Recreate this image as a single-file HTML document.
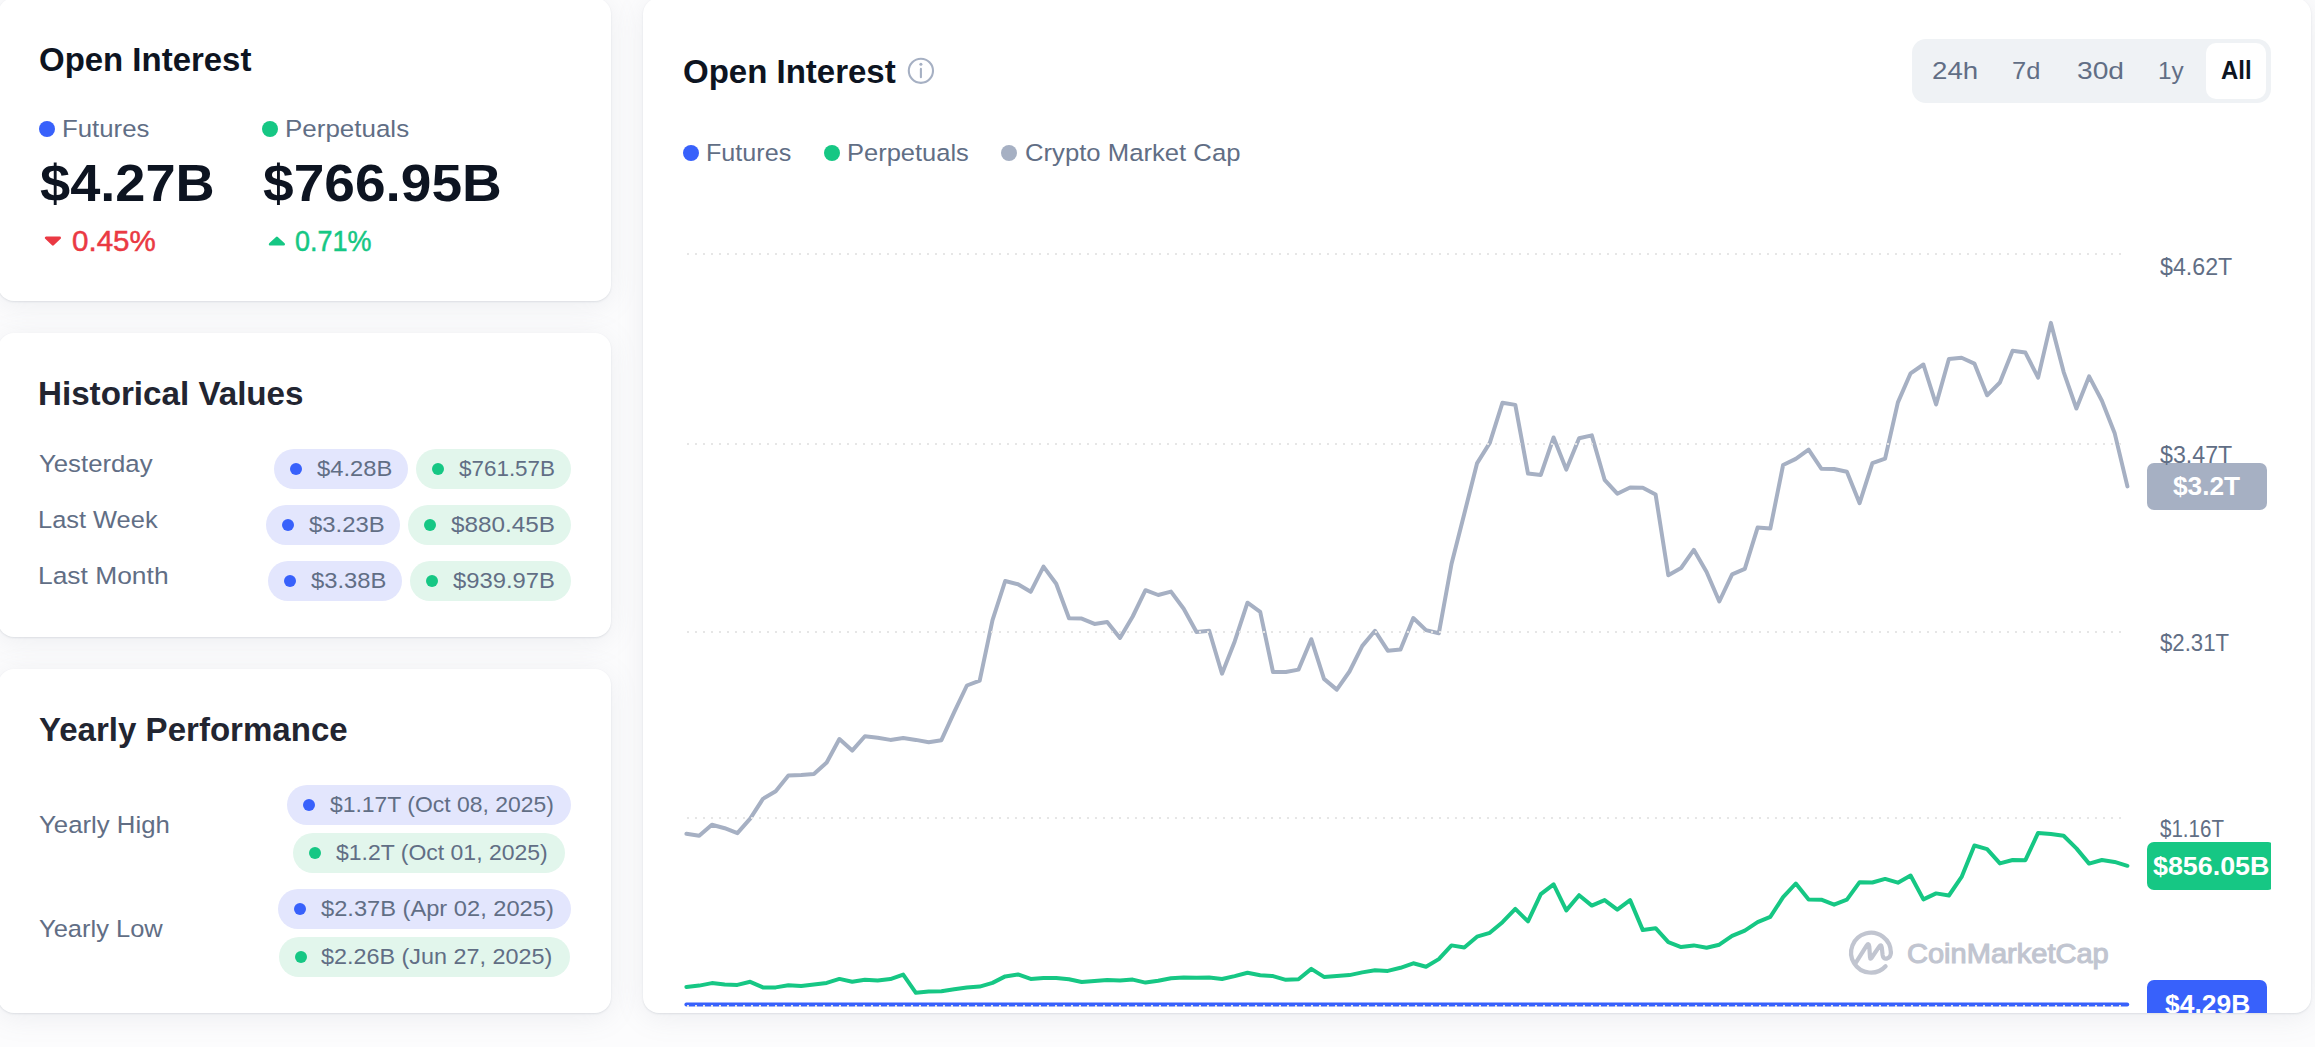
<!DOCTYPE html>
<html><head><meta charset="utf-8"><title>Open Interest</title>
<style>
html,body{margin:0;padding:0}
body{width:2315px;height:1047px;position:relative;overflow:hidden;background:#fcfcfd;font-family:"Liberation Sans",sans-serif}
.card{position:absolute;background:#fff;border-radius:16px;box-shadow:0 1px 2px rgba(128,138,157,.2),0 4px 28px rgba(128,138,157,.13)}
.t{position:absolute;line-height:1;white-space:pre;transform-origin:0 0}
.pill{position:absolute;height:40px;border-radius:20px}
.dot{position:absolute;border-radius:50%;display:block}
.tag{position:absolute;border-radius:7px}
.chart{position:absolute;left:0;top:0}
.clip{position:absolute;left:0;top:0;width:2271px;height:1013px;overflow:hidden}
.seg{position:absolute;left:1912px;top:39px;width:359px;height:64px;border-radius:14px;background:#eff2f5}
.segon{position:absolute;left:2206px;top:43px;width:60px;height:56px;border-radius:10px;background:#fff}
.tri{position:absolute;width:0;height:0;border-left:9px solid transparent;border-right:9px solid transparent}
</style></head><body>
<div class="card" style="left:-2px;top:-2px;width:613px;height:303px"></div>
<div class="card" style="left:-2px;top:333px;width:613px;height:304px"></div>
<div class="card" style="left:-2px;top:669px;width:613px;height:344px"></div>
<div class="card" style="left:643px;top:-2px;width:1668px;height:1015px"></div>
<i class="dot" style="left:39px;top:121px;width:16px;height:16px;background:#3861fb"></i>
<i class="dot" style="left:262px;top:121px;width:16px;height:16px;background:#16c784"></i>
<svg style="position:absolute;left:42px;top:233px" width="22" height="16" viewBox="0 0 22 16"><path d="M4.1 4.9 L17.7 4.9 L10.9 11.3 Z" fill="#ea3943" stroke="#ea3943" stroke-width="2.6" stroke-linejoin="round"/></svg>
<svg style="position:absolute;left:266px;top:233px" width="22" height="16" viewBox="0 0 22 16"><path d="M4.1 11.3 L17.7 11.3 L10.9 4.9 Z" fill="#16c784" stroke="#16c784" stroke-width="2.6" stroke-linejoin="round"/></svg>
<i class="dot" style="left:683px;top:145px;width:16px;height:16px;background:#3861fb"></i>
<i class="dot" style="left:824px;top:145px;width:16px;height:16px;background:#16c784"></i>
<i class="dot" style="left:1001px;top:145px;width:16px;height:16px;background:#a6b0c3"></i>
<svg style="position:absolute;left:906px;top:56px" width="30" height="30" viewBox="0 0 30 30"><circle cx="14.9" cy="14.8" r="12.1" fill="none" stroke="#a6b0c3" stroke-width="2.1"/><path d="M14.9 12.9 L14.9 21.3" stroke="#a6b0c3" stroke-width="2.1" stroke-linecap="round" fill="none"/><circle cx="14.9" cy="8.3" r="1.55" fill="#a6b0c3"/></svg>
<div class="seg"></div><div class="segon"></div>
<div class="clip">
<svg class="chart" width="2315" height="1047" viewBox="0 0 2315 1047">
<path d="M686.4 833.7 L699.2 835.8 L711.9 824.8 L724.7 828.2 L737.4 833.1 L750.2 818.7 L762.9 798.9 L775.7 791.2 L788.4 775.6 L801.2 775.0 L813.9 774.1 L826.7 762.5 L839.4 739.0 L852.2 750.6 L864.9 736.2 L877.7 737.7 L890.4 739.9 L903.2 738.0 L915.9 739.9 L928.7 742.3 L941.4 740.2 L954.2 712.1 L966.9 685.5 L979.7 680.6 L992.5 620.1 L1005.2 581.0 L1018.0 584.3 L1030.7 591.8 L1043.5 566.6 L1056.2 583.8 L1069.0 618.2 L1081.7 618.6 L1094.5 623.9 L1107.2 622.0 L1120.0 638.0 L1132.7 616.5 L1145.5 590.2 L1158.2 595.0 L1171.0 591.6 L1183.7 608.8 L1196.5 632.0 L1209.2 630.8 L1222.0 673.7 L1234.7 641.4 L1247.5 602.7 L1260.2 611.9 L1273.0 672.0 L1285.8 672.0 L1298.5 669.6 L1311.3 639.2 L1324.0 678.9 L1336.8 689.6 L1349.5 671.5 L1362.3 645.9 L1375.0 630.8 L1387.8 650.7 L1400.5 649.6 L1413.3 618.0 L1426.0 630.1 L1438.8 633.3 L1451.5 564.0 L1464.3 513.7 L1477.0 463.4 L1489.8 442.9 L1502.5 402.7 L1515.3 404.9 L1528.0 473.6 L1540.8 474.9 L1553.6 437.5 L1566.3 469.6 L1579.1 438.3 L1591.8 435.4 L1604.6 479.8 L1617.3 493.7 L1630.1 487.5 L1642.8 487.8 L1655.6 494.5 L1668.3 575.2 L1681.1 568.0 L1693.8 549.8 L1706.6 572.0 L1719.3 601.5 L1732.1 574.4 L1744.8 568.9 L1757.6 527.6 L1770.3 528.6 L1783.1 465.0 L1795.8 458.9 L1808.6 449.7 L1821.3 468.7 L1834.1 469.0 L1846.9 471.7 L1859.6 503.2 L1872.4 463.2 L1885.1 458.6 L1897.9 402.4 L1910.6 373.3 L1923.4 364.5 L1936.1 404.5 L1948.9 359.0 L1961.6 357.8 L1974.4 363.6 L1987.1 395.3 L1999.9 382.5 L2012.6 350.7 L2025.4 352.6 L2038.1 377.6 L2050.9 322.9 L2063.6 371.8 L2076.4 408.5 L2089.1 376.4 L2101.9 400.8 L2114.6 432.9 L2127.4 486.4" fill="none" stroke="#a6b0c3" stroke-width="4" stroke-linejoin="round" stroke-linecap="round"/>
<path d="M686.4 987.0 L699.2 985.6 L711.9 983.1 L724.7 984.5 L737.4 984.9 L750.2 981.8 L762.9 987.4 L775.7 987.4 L788.4 985.2 L801.2 986.0 L813.9 984.5 L826.7 982.9 L839.4 978.9 L852.2 981.8 L864.9 979.8 L877.7 980.6 L890.4 979.1 L903.2 974.6 L915.9 992.8 L928.7 991.6 L941.4 991.2 L954.2 989.3 L966.9 987.6 L979.7 986.6 L992.5 982.9 L1005.2 976.4 L1018.0 974.4 L1030.7 978.9 L1043.5 978.1 L1056.2 977.9 L1069.0 979.3 L1081.7 982.0 L1094.5 981.0 L1107.2 980.0 L1120.0 980.4 L1132.7 979.6 L1145.5 982.6 L1158.2 980.8 L1171.0 978.2 L1183.7 977.4 L1196.5 977.8 L1209.2 977.6 L1222.0 979.0 L1234.7 976.1 L1247.5 972.8 L1260.2 975.3 L1273.0 976.1 L1285.8 979.8 L1298.5 979.2 L1311.3 968.9 L1324.0 976.9 L1336.8 976.1 L1349.5 975.1 L1362.3 972.4 L1375.0 970.3 L1387.8 970.9 L1400.5 967.8 L1413.3 963.3 L1426.0 966.8 L1438.8 959.1 L1451.5 945.4 L1464.3 947.5 L1477.0 936.7 L1489.8 932.8 L1502.5 922.2 L1515.3 908.9 L1528.0 921.4 L1540.8 894.2 L1553.6 884.3 L1566.3 910.4 L1579.1 895.2 L1591.8 905.6 L1604.6 900.1 L1617.3 909.7 L1630.1 900.1 L1642.8 930.1 L1655.6 928.2 L1668.3 942.2 L1681.1 947.1 L1693.8 945.4 L1706.6 947.8 L1719.3 944.7 L1732.1 935.9 L1744.8 930.6 L1757.6 922.2 L1770.3 916.8 L1783.1 897.2 L1795.8 883.5 L1808.6 899.4 L1821.3 899.7 L1834.1 904.7 L1846.9 899.7 L1859.6 882.2 L1872.4 882.5 L1885.1 878.9 L1897.9 882.7 L1910.6 875.5 L1923.4 899.4 L1936.1 893.4 L1948.9 895.5 L1961.6 876.9 L1974.4 845.5 L1987.1 849.1 L1999.9 863.4 L2012.6 860.0 L2025.4 860.2 L2038.1 832.9 L2050.9 833.9 L2063.6 835.8 L2076.4 848.4 L2089.1 863.6 L2101.9 860.0 L2114.6 861.9 L2127.4 865.8" fill="none" stroke="#16c784" stroke-width="4" stroke-linejoin="round" stroke-linecap="round"/>
<path d="M686.4 1004.6 L2127.2 1004.6" fill="none" stroke="#3861fb" stroke-width="4" stroke-linecap="round"/>
<g stroke="#e6e6e6" stroke-width="2" stroke-dasharray="2 6"><line x1="687" x2="2123" y1="254" y2="254"/><line x1="687" x2="2123" y1="444" y2="444"/><line x1="687" x2="2123" y1="632" y2="632"/><line x1="687" x2="2123" y1="818" y2="818"/><line x1="687" x2="2123" y1="1006" y2="1006"/></g>
<g fill="none" stroke="#c1c5d0" stroke-width="4.2" stroke-linecap="round" stroke-linejoin="round">
<path d="M1890.9 952.6 A19.9 19.9 0 1 0 1885.6 966.2"/>
<path d="M1855.9 962.7 L1866.6 945.6 Q1868.8 942.4 1869.3 946.5 L1870 957 Q1870.2 960 1871.8 957.5 L1879 946.8 Q1881.3 943.5 1881.8 947.5 L1882.6 955 Q1883.2 959.2 1886.6 958.6 Q1890.9 957.5 1890.9 952.6"/>
</g>
</svg>
<div class="tag" style="left:2147px;top:463px;width:120px;height:47px;background:#a6b0c3"></div><span class="t" style="left:2172.9px;top:473.9px;font-size:25px;color:#fff;transform:scaleX(1.0500);font-weight:700;">$3.2T</span><div class="tag" style="left:2147px;top:842px;width:128px;height:48px;background:#16c784"></div><span class="t" style="left:2153.0px;top:854.0px;font-size:25px;color:#fff;transform:scaleX(1.0738);font-weight:700;">$856.05B</span><div class="tag" style="left:2147px;top:980px;width:120px;height:47px;background:#3861fb"></div><span class="t" style="left:2165.1px;top:992.1px;font-size:25px;color:#fff;transform:scaleX(1.0570);font-weight:700;">$4.29B</span>
</div>
<div class="pill" style="left:273.8px;top:449px;width:134.4px;background:#e3e6fd"></div><i class="dot" style="left:289.8px;top:462.8px;width:12px;height:12px;background:#3861fb"></i><span class="t" style="left:316.7px;top:458.1px;font-size:22.5px;color:#616e85;transform:scaleX(1.0557);">$4.28B</span><div class="pill" style="left:416.2px;top:449px;width:154.8px;background:#e2f6ec"></div><i class="dot" style="left:432.2px;top:462.8px;width:12px;height:12px;background:#16c784"></i><span class="t" style="left:458.6px;top:458.1px;font-size:22.5px;color:#616e85;transform:scaleX(0.9968);">$761.57B</span><div class="pill" style="left:265.8px;top:505px;width:134.2px;background:#e3e6fd"></div><i class="dot" style="left:281.8px;top:518.8px;width:12px;height:12px;background:#3861fb"></i><span class="t" style="left:309.1px;top:514.1px;font-size:22.5px;color:#616e85;transform:scaleX(1.0614);">$3.23B</span><div class="pill" style="left:407.9px;top:505px;width:163.1px;background:#e2f6ec"></div><i class="dot" style="left:423.9px;top:518.8px;width:12px;height:12px;background:#16c784"></i><span class="t" style="left:450.8px;top:514.1px;font-size:22.5px;color:#616e85;transform:scaleX(1.0789);">$880.45B</span><div class="pill" style="left:267.9px;top:561px;width:134.2px;background:#e3e6fd"></div><i class="dot" style="left:283.9px;top:574.8px;width:12px;height:12px;background:#3861fb"></i><span class="t" style="left:311.1px;top:570.1px;font-size:22.5px;color:#616e85;transform:scaleX(1.0571);">$3.38B</span><div class="pill" style="left:410.0px;top:561px;width:161.0px;background:#e2f6ec"></div><i class="dot" style="left:426.0px;top:574.8px;width:12px;height:12px;background:#16c784"></i><span class="t" style="left:452.8px;top:570.1px;font-size:22.5px;color:#616e85;transform:scaleX(1.0579);">$939.97B</span><div class="pill" style="left:286.9px;top:785px;width:284.2px;background:#e3e6fd"></div><i class="dot" style="left:302.9px;top:798.8px;width:12px;height:12px;background:#3861fb"></i><span class="t" style="left:329.9px;top:794.1px;font-size:22.5px;color:#616e85;transform:scaleX(1.0188);">$1.17T (Oct 08, 2025)</span><div class="pill" style="left:292.8px;top:833px;width:272.3px;background:#e2f6ec"></div><i class="dot" style="left:308.8px;top:846.8px;width:12px;height:12px;background:#16c784"></i><span class="t" style="left:335.7px;top:842.1px;font-size:22.5px;color:#616e85;transform:scaleX(1.0218);">$1.2T (Oct 01, 2025)</span><div class="pill" style="left:277.9px;top:889px;width:293.2px;background:#e3e6fd"></div><i class="dot" style="left:293.9px;top:902.8px;width:12px;height:12px;background:#3861fb"></i><span class="t" style="left:320.7px;top:898.1px;font-size:22.5px;color:#616e85;transform:scaleX(1.0514);">$2.37B (Apr 02, 2025)</span><div class="pill" style="left:279.0px;top:937px;width:291.0px;background:#e2f6ec"></div><i class="dot" style="left:295.0px;top:950.8px;width:12px;height:12px;background:#16c784"></i><span class="t" style="left:321.4px;top:946.1px;font-size:22.5px;color:#616e85;transform:scaleX(1.0389);">$2.26B (Jun 27, 2025)</span>
<span class="t" style="left:38.7px;top:42.7px;font-size:33.5px;color:#0d1421;transform:scaleX(0.9837);font-weight:700;">Open Interest</span><span class="t" style="left:62.3px;top:117.0px;font-size:24.5px;color:#616e85;transform:scaleX(1.0525);">Futures</span><span class="t" style="left:285.1px;top:117.0px;font-size:24.5px;color:#616e85;transform:scaleX(1.0596);">Perpetuals</span><span class="t" style="left:40.0px;top:156.6px;font-size:52.5px;color:#0d1421;transform:scaleX(1.0319);font-weight:700;">$4.27B</span><span class="t" style="left:262.8px;top:156.6px;font-size:52.5px;color:#0d1421;transform:scaleX(1.0491);font-weight:700;">$766.95B</span><span class="t" style="left:71.5px;top:226.5px;font-size:29px;color:#ea3943;transform:scaleX(1.0185);-webkit-text-stroke:0.5px #ea3943;">0.45%</span><span class="t" style="left:294.5px;top:226.5px;font-size:29px;color:#16c784;transform:scaleX(0.9296);-webkit-text-stroke:0.5px #16c784;">0.71%</span><span class="t" style="left:37.6px;top:376.5px;font-size:33.5px;color:#222531;transform:scaleX(0.9902);font-weight:700;">Historical Values</span><span class="t" style="left:39.0px;top:452.4px;font-size:24.5px;color:#616e85;transform:scaleX(1.0505);">Yesterday</span><span class="t" style="left:38.0px;top:508.4px;font-size:24.5px;color:#616e85;transform:scaleX(1.0372);">Last Week</span><span class="t" style="left:37.9px;top:564.4px;font-size:24.5px;color:#616e85;transform:scaleX(1.0771);">Last Month</span><span class="t" style="left:38.9px;top:712.8px;font-size:33.5px;color:#222531;transform:scaleX(0.9868);font-weight:700;">Yearly Performance</span><span class="t" style="left:38.8px;top:812.5px;font-size:24.5px;color:#616e85;transform:scaleX(1.0516);">Yearly High</span><span class="t" style="left:38.9px;top:916.5px;font-size:24.5px;color:#616e85;transform:scaleX(1.0407);">Yearly Low</span><span class="t" style="left:682.8px;top:54.8px;font-size:33.5px;color:#0d1421;transform:scaleX(0.9851);font-weight:700;">Open Interest</span><span class="t" style="left:706.2px;top:140.6px;font-size:24.5px;color:#616e85;transform:scaleX(1.0263);">Futures</span><span class="t" style="left:846.9px;top:140.6px;font-size:24.5px;color:#616e85;transform:scaleX(1.0404);">Perpetuals</span><span class="t" style="left:1024.6px;top:140.6px;font-size:24.5px;color:#616e85;transform:scaleX(1.0480);">Crypto Market Cap</span><span class="t" style="left:1931.7px;top:58.8px;font-size:24.5px;color:#616e85;transform:scaleX(1.1289);">24h</span><span class="t" style="left:2012.3px;top:58.8px;font-size:24.5px;color:#616e85;transform:scaleX(1.0400);">7d</span><span class="t" style="left:2076.9px;top:58.8px;font-size:24.5px;color:#616e85;transform:scaleX(1.1500);">30d</span><span class="t" style="left:2157.8px;top:58.8px;font-size:24.5px;color:#616e85;transform:scaleX(0.9917);">1y</span><span class="t" style="left:2221.0px;top:57.9px;font-size:25.5px;color:#0d1421;transform:scaleX(0.9367);font-weight:700;">All</span><span class="t" style="left:2160.3px;top:255.6px;font-size:23px;color:#616e85;transform:scaleX(1.0085);">$4.62T</span><span class="t" style="left:2160.3px;top:443.9px;font-size:23px;color:#616e85;transform:scaleX(1.0085);">$3.47T</span><span class="t" style="left:2160.3px;top:631.9px;font-size:23px;color:#616e85;transform:scaleX(0.9648);">$2.31T</span><span class="t" style="left:2160.3px;top:817.9px;font-size:23px;color:#616e85;transform:scaleX(0.8930);">$1.16T</span><span class="t" style="left:1907.0px;top:939.1px;font-size:28.5px;color:#c1c5d0;transform:scaleX(1.0188);-webkit-text-stroke:1.1px #c1c5d0;">CoinMarketCap</span>
</body></html>
